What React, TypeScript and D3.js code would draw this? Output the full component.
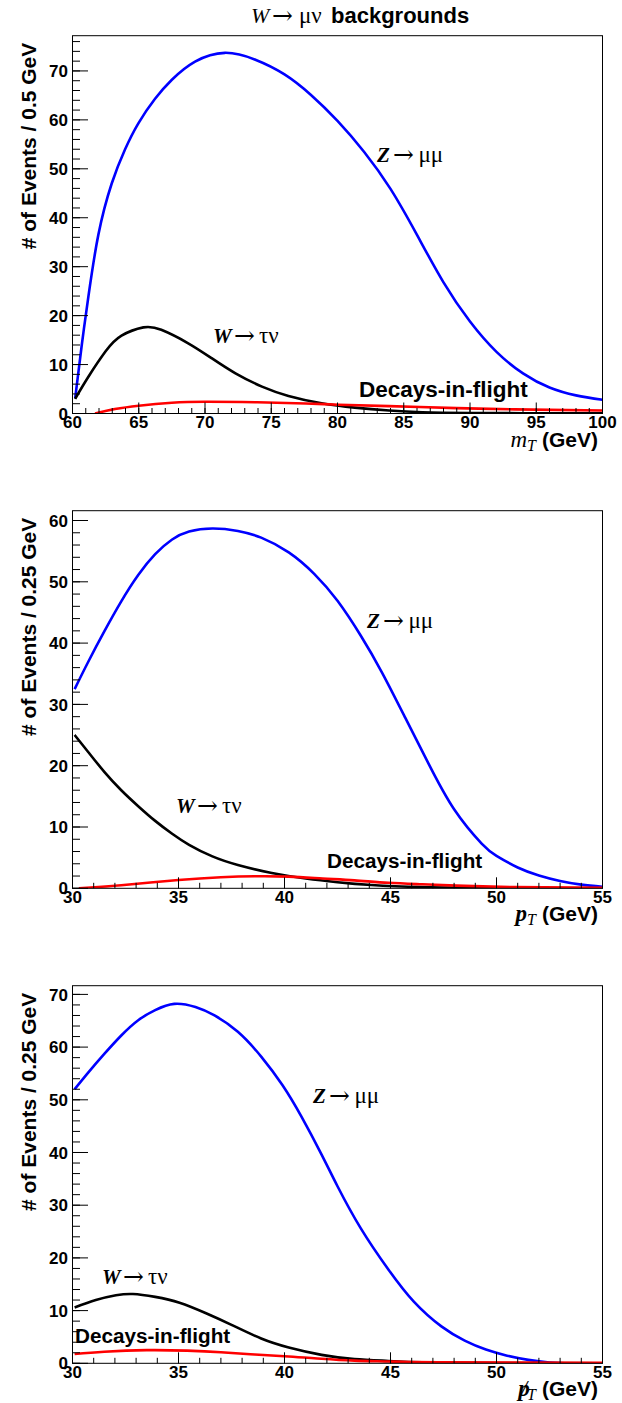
import React from "react";
import * as d3 from "d3";

// ---------------- DATA ----------------
// Panel 1: m_T
const mtZx = [60.2, 60.7, 61.2, 61.95, 62.96, 63.97, 64.97, 66.23, 67.5, 69.25, 71.5, 73.8, 76, 78, 80, 82, 84, 86, 88, 90, 92, 94, 96, 98, 100];
const mtZy = [3.1, 14, 23.9, 36.5, 47.0, 54.0, 59.3, 64.3, 68.2, 71.9, 73.7, 72.3, 69.3, 65.1, 59.8, 53.5, 45.9, 36.5, 26.8, 18.8, 12.6, 8.2, 5.3, 3.7, 2.8];
const mtWx = [60.2, 61.2, 62.5, 63.7, 65.35, 66.7, 68.7, 70.5, 72.3, 74.3, 76.3, 78.8, 81.3, 83.9, 86.4, 90, 95, 100];
const mtWy = [3.0, 7.5, 12.7, 15.9, 17.6, 17.1, 14.4, 11.3, 8.2, 5.5, 3.6, 2.1, 1.2, 0.6, 0.25, 0.1, 0.05, 0.02];
const mtDx = [61.7, 63.2, 65, 67.5, 70, 73.8, 77.6, 80.1, 83.9, 89, 93.4, 100];
const mtDy = [0, 0.9, 1.6, 2.2, 2.4, 2.3, 2.05, 1.8, 1.5, 1.1, 0.85, 0.6];

// Panel 2: p_T
const ptZx = [30.1, 30.75, 31.5, 32.3, 33.1, 33.9, 34.7, 35.5, 36.6, 37.8, 38.9, 40.2, 41.4, 42.5, 43.6, 44.6, 45.7, 46.8, 48.0, 49.3, 50, 51, 52, 53, 54, 55];
const ptZy = [32.5, 37.0, 41.9, 46.8, 51.1, 54.5, 56.9, 58.2, 58.7, 58.3, 57.2, 54.8, 51.3, 46.9, 41.2, 35.2, 27.8, 20.3, 12.9, 7.3, 5.3, 3.4, 2.1, 1.2, 0.6, 0.25];
const ptWx = [30.1, 30.75, 31.5, 32.3, 33.1, 33.9, 34.7, 35.5, 36.6, 37.8, 39.4, 41.0, 42.5, 44.1, 46.5, 50, 55];
const ptWy = [25.0, 22.2, 19.0, 16.0, 13.4, 11.0, 8.9, 7.1, 5.2, 3.8, 2.5, 1.6, 1.0, 0.54, 0.2, 0.05, 0.0];
const ptDx = [30.3, 32.3, 35, 37, 38.6, 40.2, 41.8, 43.3, 44.9, 46.5, 48.1, 50.9, 55];
const ptDy = [0, 0.5, 1.35, 1.8, 1.96, 1.9, 1.6, 1.3, 0.9, 0.65, 0.43, 0.2, 0.1];

// Panel 3: missing p_T
const metZx = [30.1, 30.75, 31.5, 32.3, 33.1, 33.9, 34.8, 35.8, 36.7, 37.8, 38.9, 39.9, 40.8, 41.75, 42.5, 43.6, 44.9, 46.1, 47.4, 48.5, 49.5, 50.5, 51.5, 52.5, 53.5, 55];
const metZy = [52.0, 55.2, 58.7, 62.2, 65.1, 67.0, 68.2, 67.6, 66.0, 62.9, 58.2, 52.8, 46.8, 39.6, 33.6, 25.6, 17.8, 11.7, 7.0, 4.3, 2.6, 1.45, 0.65, 0.15, 0.0, 0.0];
const metWx = [30.1, 31.1, 32.05, 32.85, 33.9, 35.05, 36.3, 37.5, 38.9, 40.2, 41.75, 43.3, 44.9, 46.5, 50, 55];
const metWy = [10.6, 12.0, 12.9, 13.15, 12.6, 11.5, 9.5, 7.3, 4.7, 3.0, 1.6, 0.8, 0.45, 0.2, 0.05, 0];
const metDx = [30.1, 31.5, 33.5, 35.4, 37, 38.6, 40.2, 41.75, 43.3, 44.9, 47.3, 55];
const metDy = [1.77, 2.2, 2.5, 2.4, 2.1, 1.66, 1.3, 0.85, 0.5, 0.35, 0.2, 0.1];

const yTitles = ["# of Events / 0.5 GeV", "# of Events / 0.25 GeV", "# of Events / 0.25 GeV"];
const xDomains: [number, number][] = [[60, 100], [30, 55], [30, 55]];
const yMaxes = [77.2, 61.6, 71.65];

// ---------------- LAYOUT ----------------
const W = 622;
const H = 1403;
const X0 = 72.5;
const X1 = 602.5;
const SANS = "'Liberation Sans', Arial, Helvetica, sans-serif";
const SERIF = "'Liberation Serif', 'Times New Roman', 'DejaVu Serif', serif";

type Lbl = { x: number; y: number };
const layouts = [
  { top: 35.7, bottom: 413.5, z: { x: 377, y: 161.7 }, w: { x: 213, y: 342.7 }, d: { x: 359, y: 396.7 }, dSize: 22.5 },
  { top: 510.7, bottom: 888.3, z: { x: 367, y: 628.3 }, w: { x: 176, y: 813.3 }, d: { x: 327, y: 867.7 }, dSize: 20.7 },
  { top: 985.7, bottom: 1363.3, z: { x: 313, y: 1103.3 }, w: { x: 102, y: 1284 }, d: { x: 75, y: 1343.3 }, dSize: 20.7 },
];

const series = [
  [
    { xs: mtZx, ys: mtZy, color: "#0000ff" },
    { xs: mtWx, ys: mtWy, color: "#000000" },
    { xs: mtDx, ys: mtDy, color: "#ff0000" },
  ],
  [
    { xs: ptZx, ys: ptZy, color: "#0000ff" },
    { xs: ptWx, ys: ptWy, color: "#000000" },
    { xs: ptDx, ys: ptDy, color: "#ff0000" },
  ],
  [
    { xs: metZx, ys: metZy, color: "#0000ff" },
    { xs: metWx, ys: metWy, color: "#000000" },
    { xs: metDx, ys: metDy, color: "#ff0000" },
  ],
];

function Arrow({ x }: { x: number }) {
  return (
    <tspan x={x} fontFamily="'DejaVu Serif', serif" fontSize={25} dy={1}>
      →
    </tspan>
  );
}

function ZLabel({ p }: { p: Lbl }) {
  return (
    <text x={p.x} y={p.y} fontFamily={SERIF} fontSize={21} fill="#000">
      <tspan fontStyle="italic" fontWeight="bold">Z</tspan>
      <Arrow x={p.x + 16} />
      <tspan x={p.x + 41.5} dy={-1} fontSize={23}>μμ</tspan>
    </text>
  );
}
function WLabel({ p }: { p: Lbl }) {
  return (
    <text x={p.x} y={p.y} fontFamily={SERIF} fontSize={21} fill="#000">
      <tspan fontStyle="italic" fontWeight="bold">W</tspan>
      <Arrow x={p.x + 21} />
      <tspan x={p.x + 46} dy={-1} fontSize={23}>τν</tspan>
    </text>
  );
}
function DLabel({ p, size }: { p: Lbl; size: number }) {
  return (
    <text x={p.x} y={p.y} fontFamily={SANS} fontWeight="bold" fontSize={size} fill="#000">
      Decays-in-flight
    </text>
  );
}

function XTitle({ kind, y }: { kind: number; y: number }) {
  return (
    <text x={598} y={y} textAnchor="end" fill="#000" fontSize={22}>
      {kind === 0 && <tspan fontFamily={SERIF} fontStyle="italic" fontSize={23}>m</tspan>}
      {kind === 1 && <tspan fontFamily={SERIF} fontStyle="italic" fontWeight="bold" fontSize={23}>p</tspan>}
      {kind === 2 && (
        <>
          <tspan fontFamily={SERIF} fontStyle="italic" fontWeight="bold" fontSize={23}>p</tspan>
          <tspan fontFamily={SERIF} fontStyle="italic" fontSize={23} dx={-9}>/</tspan>
        </>
      )}
      <tspan fontFamily={SERIF} fontStyle="italic" fontSize={16} dy={4}>T</tspan>
      <tspan fontFamily={SANS} fontWeight="bold" fontSize={21} dy={-4} dx={6}>(GeV)</tspan>
    </text>
  );
}

function Panel({ i }: { i: number }) {
  const L = layouts[i];
  const x = d3.scaleLinear().domain(xDomains[i]).range([X0, X1]);
  const y = d3.scaleLinear().domain([0, yMaxes[i]]).range([L.bottom, L.top]);
  const line = d3
    .line<[number, number]>()
    .x((d) => x(d[0]))
    .y((d) => y(d[1]))
    .curve(d3.curveNatural);
  const [xa, xb] = xDomains[i];
  const xMajor = d3.range(xa, xb + 0.001, 5);
  const xMinor = d3.range(xa, xb + 0.001, 1);
  const yMajor = d3.range(0, yMaxes[i], 10);
  const yMinor = d3.range(0, yMaxes[i], 2);
  const clipId = `clip${i}`;
  return (
    <g>
      <defs>
        <clipPath id={clipId}>
          <rect x={X0} y={L.top} width={X1 - X0} height={L.bottom - L.top} />
        </clipPath>
      </defs>
      <g clipPath={`url(#${clipId})`}>
        {series[i].map((s, k) => (
          <path
            key={k}
            d={line(s.xs.map((v, j) => [v, s.ys[j]] as [number, number])) || ""}
            fill="none"
            stroke={s.color}
            strokeWidth={2.6}
            strokeLinejoin="round"
          />
        ))}
      </g>
      <rect x={X0} y={L.top} width={X1 - X0} height={L.bottom - L.top} fill="none" stroke="#000" strokeWidth={1} />
      {yMinor.map((v) => (
        <line key={`ym${v}`} x1={X0} x2={X0 + 7.5} y1={y(v)} y2={y(v)} stroke="#000" strokeWidth={1} />
      ))}
      {yMajor.map((v) => (
        <line key={`yM${v}`} x1={X0} x2={X0 + 15.5} y1={y(v)} y2={y(v)} stroke="#000" strokeWidth={1} />
      ))}
      {yMajor.map((v) => (
        <text key={`yl${v}`} x={68} y={y(v)} dy="0.36em" textAnchor="end" fontFamily={SANS} fontWeight="bold" fontSize={17}>
          {v}
        </text>
      ))}
      {xMinor.map((v) => (
        <line key={`xm${v}`} x1={x(v)} x2={x(v)} y1={L.bottom} y2={L.bottom - 5.5} stroke="#000" strokeWidth={1} />
      ))}
      {xMajor.map((v) => (
        <line key={`xM${v}`} x1={x(v)} x2={x(v)} y1={L.bottom} y2={L.bottom - 11} stroke="#000" strokeWidth={1} />
      ))}
      {xMajor.map((v) => (
        <text key={`xl${v}`} x={x(v)} y={L.bottom + 14.5} textAnchor="middle" fontFamily={SANS} fontWeight="bold" fontSize={17}>
          {v}
        </text>
      ))}
      <text
        transform={`translate(36,${L.top + 7}) rotate(-90)`}
        textAnchor="end"
        fontFamily={SANS}
        fontWeight="bold"
        fontSize={21}
      >
        {yTitles[i]}
      </text>
      <XTitle kind={i} y={L.bottom + 33} />
      <ZLabel p={L.z} />
      <WLabel p={L.w} />
      <DLabel p={L.d} size={L.dSize} />
    </g>
  );
}

export default function App() {
  return (
    <div style={{ position: "absolute", left: 0, top: 0 }}>
      <svg width={W} height={H} viewBox={`0 0 ${W} ${H}`} style={{ display: "block", background: "#fff" }}>
        <rect x={0} y={0} width={W} height={H} fill="#fff" />
        <text x={251} y={23} fill="#000" fontSize={21}>
          <tspan fontFamily={SERIF} fontStyle="italic" fontSize={22}>W</tspan>
          <tspan x={272} fontFamily="'DejaVu Serif', serif" fontSize={25} dy={1}>→</tspan>
          <tspan x={299} fontFamily={SERIF} fontSize={23} dy={-1}>μν</tspan>
          <tspan x={331} fontFamily={SANS} fontWeight="bold" fontSize={22}>backgrounds</tspan>
        </text>
        {[0, 1, 2].map((i) => (
          <Panel key={i} i={i} />
        ))}
      </svg>
    </div>
  );
}
